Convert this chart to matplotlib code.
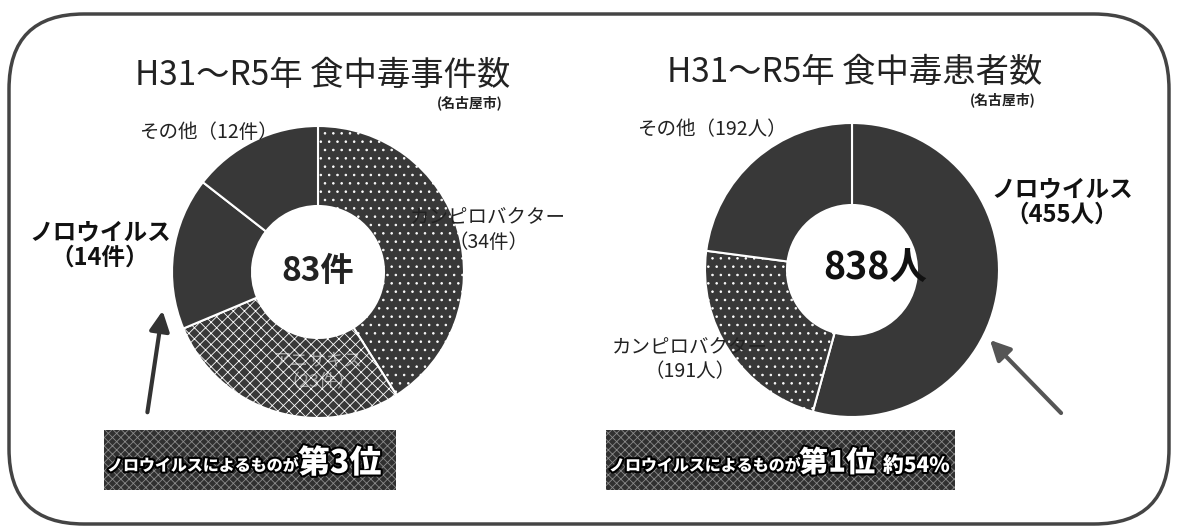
import matplotlib
matplotlib.use("Agg")
import matplotlib.pyplot as plt
import matplotlib.patheffects as pe
from matplotlib.patches import FancyBboxPatch, Rectangle, FancyArrowPatch

plt.rcParams["font.family"] = ["Noto Sans CJK JP", "DejaVu Sans"]
plt.rcParams["hatch.color"] = "white"
plt.rcParams["hatch.linewidth"] = 0.6

# data
case_labels = ["カンピロバクター", "アニサキス", "ノロウイルス", "その他"]
case_counts = [34, 23, 14, 12]
patient_labels = ["ノロウイルス", "カンピロバクター", "その他"]
patient_counts = [455, 191, 192]

W, H = 1179, 531
fig = plt.figure(figsize=(W / 100, H / 100), dpi=100)
ax = fig.add_axes([0, 0, 1, 1])


def Y(y):
    return H - y


# rounded frame
frame = FancyBboxPatch((9, Y(524)), 1160, 510,
                       boxstyle="round,pad=0,rounding_size=75",
                       fill=False, lw=2.5, ec="#444444")
ax.add_patch(frame)

dark = "#383838"

# left donut
w1, _ = ax.pie(case_counts, center=(318, Y(272)), radius=146, startangle=90,
               counterclock=False, frame=True,
               wedgeprops=dict(width=80, edgecolor="white", linewidth=1.5))
for w, h in zip(w1, ["..", "xxx", None, None]):
    w.set_facecolor(dark)
    if h:
        w.set_hatch(h)

# right donut
w2, _ = ax.pie(patient_counts, center=(852, Y(270)), radius=147, startangle=90,
               counterclock=False, frame=True,
               wedgeprops=dict(width=82, edgecolor="white", linewidth=1.5))
for w, h in zip(w2, [None, "..", None]):
    w.set_facecolor(dark)
    if h:
        w.set_hatch(h)

ax.set_xlim(0, W)
ax.set_ylim(0, H)
ax.set_aspect("auto")
ax.axis("off")

txt = "#222222"
# titles
ax.text(323, Y(75), "H31～R5年 食中毒事件数", fontsize=24, ha="center", va="center", color=txt)
ax.text(470, Y(103), "(名古屋市)", fontsize=10, ha="center", va="center", color=txt, fontweight="bold")
ax.text(855, Y(72), "H31～R5年 食中毒患者数", fontsize=24, ha="center", va="center", color=txt)
ax.text(1003, Y(100), "(名古屋市)", fontsize=10, ha="center", va="center", color=txt, fontweight="bold")

# center totals
ax.text(318, Y(272), f"{sum(case_counts)}件", fontsize=24, ha="center", va="center",
        color=txt, fontweight="bold")
ax.text(875, Y(268), f"{sum(patient_counts)}人", fontsize=27, ha="center", va="center",
        color="#111111", fontweight="bold")

# slice labels (left)
ax.text(208, Y(132), f"{case_labels[3]}（{case_counts[3]}件）", fontsize=14,
        ha="center", va="center", color=txt)
ax.text(100, Y(245), f"{case_labels[2]}\n（{case_counts[2]}件）", fontsize=17,
        ha="center", va="center", color="#111111", fontweight="bold", linespacing=1.1)
ax.text(488, Y(230), f"{case_labels[0]}\n（{case_counts[0]}件）", fontsize=14,
        ha="center", va="center", color=txt, linespacing=1.2)
ax.text(318, Y(372), f"{case_labels[1]}\n（{case_counts[1]}件）", fontsize=13,
        ha="center", va="center", color="white", alpha=0.55, linespacing=1.2)

# slice labels (right)
ax.text(712, Y(130), f"{patient_labels[2]}（{patient_counts[2]}人）", fontsize=14,
        ha="center", va="center", color=txt)
ax.text(1062, Y(202), f"{patient_labels[0]}\n（{patient_counts[0]}人）", fontsize=17,
        ha="center", va="center", color="#111111", fontweight="bold", linespacing=1.1)
ax.text(690, Y(360), f"{patient_labels[1]}\n（{patient_counts[1]}人）", fontsize=14,
        ha="center", va="center", color=txt, linespacing=1.2)

# arrows
ax.add_patch(FancyArrowPatch((147, Y(415)), (163, Y(308)),
                             arrowstyle="-|>,head_length=12,head_width=6",
                             lw=3, color="#333333", mutation_scale=1))
ax.add_patch(FancyArrowPatch((1063, Y(415)), (988, Y(338)),
                             arrowstyle="-|>,head_length=12,head_width=6",
                             lw=3, color="#555555", mutation_scale=1))

# banners
outline = [pe.withStroke(linewidth=3, foreground="black")]
for x0, x1 in [(104, 396), (606, 955)]:
    ax.add_patch(Rectangle((x0, Y(490)), x1 - x0, 60, facecolor="#303030",
                           hatch="////\\\\\\\\", edgecolor="#8a8a8a", lw=0))

ax.text(107, Y(466), "ノロウイルスによるものが", fontsize=11.5, ha="left", va="center",
        color="white", fontweight="black", path_effects=outline)
ax.text(298, Y(463), "第3位", fontsize=23, ha="left", va="center",
        color="white", fontweight="black", path_effects=outline)
ax.text(609, Y(466), "ノロウイルスによるものが", fontsize=11.5, ha="left", va="center",
        color="white", fontweight="black", path_effects=outline)
ax.text(799, Y(463), "第1位", fontsize=21, ha="left", va="center",
        color="white", fontweight="black", path_effects=outline)
ax.text(883, Y(466), "約54%", fontsize=15, ha="left", va="center",
        color="white", fontweight="black", path_effects=outline)

fig.savefig("out.png", dpi=100)
